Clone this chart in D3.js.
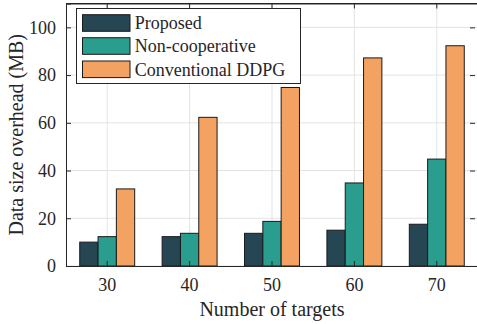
<!DOCTYPE html>
<html>
<head>
<meta charset="utf-8">
<script src="https://cdn.jsdelivr.net/npm/d3@7"></script>
<style>
  #chart text { font-family: "Liberation Serif", serif; }
</style>
</head>
<body style="margin:0;background:#fff">
<svg id="chart" width="477" height="324" font-family="Liberation Serif" style="display:block"></svg>
<script>
const categories = ["30", "40", "50", "60", "70"];
const seriesNames = ["Proposed", "Non-cooperative", "Conventional DDPG"];
const proposed = [10, 12.3, 13.7, 15, 17.5];
const nonCooperative = [12.3, 13.7, 18.7, 34.8, 44.8];
const conventionalDDPG = [32.3, 62.3, 74.8, 87.2, 92.3];
const yTicks = [0, 20, 40, 60, 80, 100];
const colors = ["#264653", "#2a9d8f", "#f4a261"];

const seriesValues = [proposed, nonCooperative, conventionalDDPG];

const svg = d3.select("#chart");
const L = 66, R = 478, T = 3.5, B = 266;
const textColor = "#262626";

const x = d3.scaleBand().domain(categories).range([L, R]).paddingInner(0.333).paddingOuter(0.1667);
const xs = d3.scaleBand().domain(seriesNames).range([0, x.bandwidth()]).padding(0);
const y = d3.scaleLinear().domain([0, 110]).range([B, T]);

// grid
const grid = svg.append("g");
grid.selectAll("line.h").data(yTicks).join("line")
  .attr("x1", L).attr("x2", R).attr("y1", d => y(d)).attr("y2", d => y(d))
  .attr("stroke", "#e3e3e3").attr("stroke-width", 1);
grid.selectAll("line.v").data(categories).join("line")
  .attr("x1", d => x(d) + x.bandwidth() / 2).attr("x2", d => x(d) + x.bandwidth() / 2)
  .attr("y1", T).attr("y2", B)
  .attr("stroke", "#e3e3e3").attr("stroke-width", 1);

// bars
const groups = svg.append("g").selectAll("g").data(categories).join("g")
  .attr("transform", d => `translate(${x(d)},0)`);
groups.selectAll("rect").data((d, i) => seriesNames.map((s, k) => ({ s, k, v: seriesValues[k][i] })))
  .join("rect")
  .attr("x", d => xs(d.s))
  .attr("width", xs.bandwidth())
  .attr("y", d => y(d.v))
  .attr("height", d => B - y(d.v))
  .attr("fill", d => colors[d.k])
  .attr("stroke", "#1a1a1a").attr("stroke-width", 1);

// axes frame
const gx = svg.append("g").attr("transform", `translate(0,${B})`).call(d3.axisBottom(x).tickSize(-5).tickPadding(12));
const gy = svg.append("g").attr("transform", `translate(${L},0)`).call(d3.axisLeft(y).tickValues(yTicks).tickSize(-5).tickPadding(10));
const gxt = svg.append("g").attr("transform", `translate(0,${T})`).call(d3.axisTop(x).tickSize(-5).tickFormat(""));
const gyr = svg.append("g").attr("transform", `translate(${R - 3},0)`).call(d3.axisRight(y).tickValues(yTicks).tickSize(-5).tickFormat(""));
[gx, gy, gxt, gyr].forEach(g => {
  g.attr("font-family", "Liberation Serif").attr("font-size", 18);
  g.select(".domain").attr("stroke", textColor).attr("stroke-width", 1);
  g.selectAll(".tick line").attr("stroke", textColor);
  g.selectAll("text").attr("fill", textColor);
});
gyr.select(".domain").remove();
svg.append("line").attr("x1", L).attr("x2", R).attr("y1", T).attr("y2", T).attr("stroke", textColor);

// axis labels
svg.append("text").attr("x", (L + 478) / 2).attr("y", 316)
  .attr("text-anchor", "middle").attr("fill", textColor)
  .attr("font-family", "Times New Roman").attr("font-size", 20)
  .text("Number of targets");
svg.append("text").attr("transform", `translate(23,${(B + T) / 2}) rotate(-90)`)
  .attr("text-anchor", "middle").attr("fill", textColor)
  .attr("font-family", "serif").attr("font-size", 20)
  .text("Data size overhead (MB)");

// legend
const lg = svg.append("g");
lg.append("rect").attr("x", 76.5).attr("y", 8.5).attr("width", 224).attr("height", 75)
  .attr("fill", "#fff").attr("stroke", "#262626").attr("stroke-width", 1);
const ly = [14.7, 37.7, 61];
seriesNames.forEach((s, k) => {
  lg.append("rect").attr("x", 82.5).attr("y", ly[k]).attr("width", 47.5).attr("height", 16.6)
    .attr("fill", colors[k]).attr("stroke", "#1a1a1a").attr("stroke-width", 1);
  lg.append("text").attr("x", 134.7).attr("y", ly[k] + 14.5).attr("fill", textColor)
    .attr("font-size", 18).style("font-family", "Liberation Serif").text(s);
});
</script>
</body>
</html>
